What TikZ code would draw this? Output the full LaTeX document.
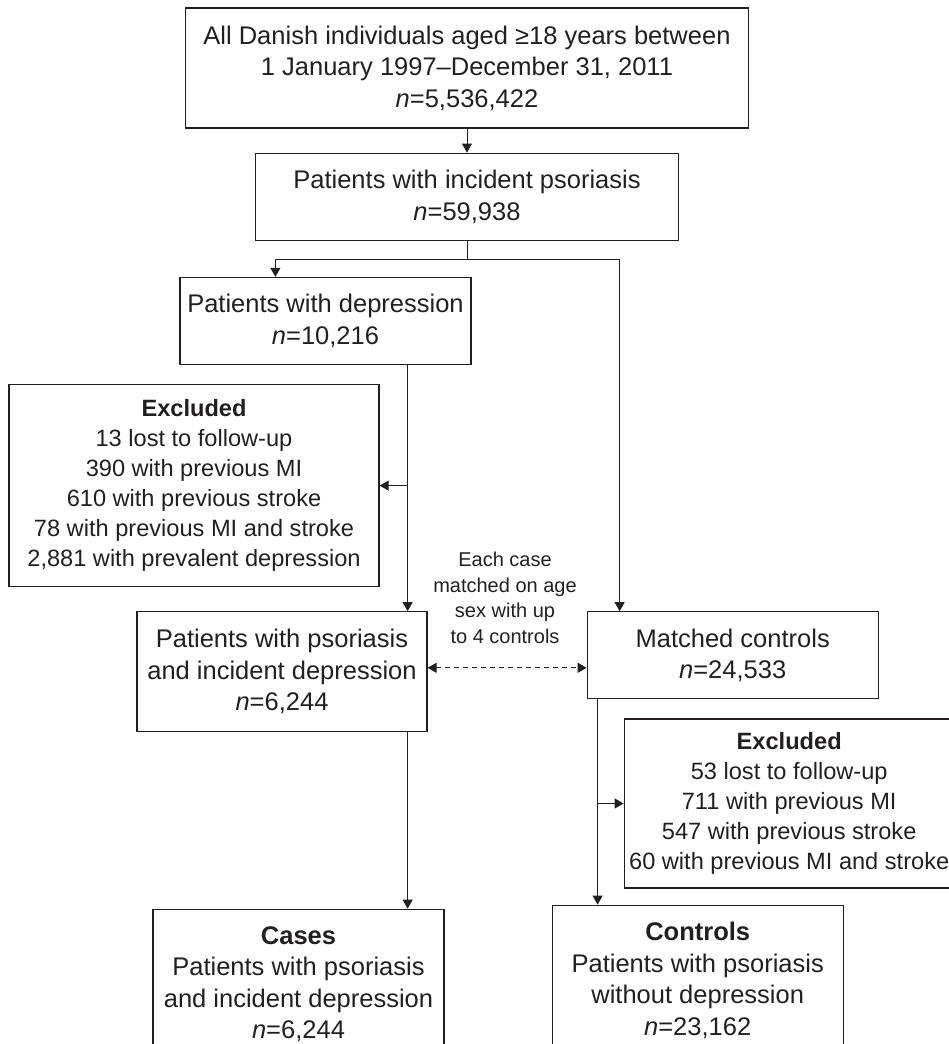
\documentclass[tikz,border=0pt]{standalone}
\usepackage{fontspec}
\setmainfont{Liberation Sans}
\usepackage{tikz}
\usetikzlibrary{positioning}
\usetikzlibrary{arrows.meta}
\definecolor{ink}{HTML}{231F20}

\begin{document}
\begin{tikzpicture} [x=1pt, y=-1pt, line width=1pt, draw=ink, text=ink,
        >={Triangle[length=9pt, width=10pt]},
        main/.style = {draw, line width=1.2pt, align=center, inner sep=0pt,
            font=\fontsize{25.5}{31.5}\selectfont},
        excl/.style = {main, font=\fontsize{23.6}{30}\selectfont},
        note/.style = {align=center, font=\fontsize{20}{25.5}\selectfont}]
        \useasboundingbox (0,0) rectangle (949,1044);

        %Knoten
        \node[main, minimum width=563pt, minimum height=120pt] (all) at (467,68)
            {All Danish individuals aged ≥18 years between\\1 January 1997–December 31, 2011\\\textit{n}=5,536,422};
        \node[main, minimum width=423pt, minimum height=87pt] (pso) [below = 24pt of all]
            {Patients with incident psoriasis\\\textit{n}=59,938};
        \node[main, minimum width=291pt, minimum height=87pt] (dep) [below = 36pt of pso, xshift=-141.5pt]
            {Patients with depression\\\textit{n}=10,216};
        \node[excl, minimum width=370pt, minimum height=202pt] (ex1) [below = 19pt of dep, xshift=-131.5pt]
            {\textbf{Excluded}\\13 lost to follow-up\\390 with previous MI\\610 with previous stroke\\78 with previous MI and stroke\\2,881 with prevalent depression};
        \node[main, minimum width=290pt, minimum height=120pt] (pid) [below = 24pt of ex1, xshift=88pt]
            {Patients with psoriasis\\and incident depression\\\textit{n}=6,244};
        \node[main, minimum width=291pt, minimum height=87pt] (mat) [right = 159pt of pid, yshift=16.5pt]
            {Matched controls\\\textit{n}=24,533};
        \node[excl, minimum width=330pt, minimum height=169pt] (ex2) [below = 19pt of mat, xshift=56.5pt]
            {\textbf{Excluded}\\53 lost to follow-up\\711 with previous MI\\547 with previous stroke\\60 with previous MI and stroke};
        \node[main, minimum width=291pt, minimum height=150pt] (con) [below = 16pt of ex2, xshift=-91.5pt]
            {\textbf{Controls}\\Patients with psoriasis\\without depression\\\textit{n}=23,162};
        \node[main, minimum width=291pt, minimum height=150pt] (cas) [left = 107pt of con, yshift=-4pt]
            {\textbf{Cases}\\Patients with psoriasis\\and incident depression\\\textit{n}=6,244};
        \node[note] (match) at (505,598) {Each case\\matched on age\\sex with up\\to 4 controls};

        \path (pso.south) ++(0,19) coordinate (split);
        \coordinate (t1) at ([xshift=-64pt]dep.south east);
        \coordinate (t2) at ([xshift=11pt]mat.south west);

        %Kanten
        \draw[->] (all) -- (pso);
        \draw (pso) -- (split);
        \draw[->] (split) -| ([xshift=96pt]dep.north west);
        \draw[->] (split) -| ([xshift=33pt]mat.north west);

        \draw[->] (t1) -- (t1 |- pid.north);
        \draw[->] (t1 |- ex1.east) -- (ex1.east);
        \draw[->] (t1 |- pid.south) -- (t1 |- cas.north);

        \draw[<->, dash pattern=on 5pt off 4pt] ([yshift=4pt]pid.east) -- ([yshift=4pt]pid.east -| mat.west);

        \draw[->] (t2) -- (t2 |- con.north);
        \draw[->] (t2 |- ex2.west) -- (ex2.west);

    \end{tikzpicture}
\end{document}
